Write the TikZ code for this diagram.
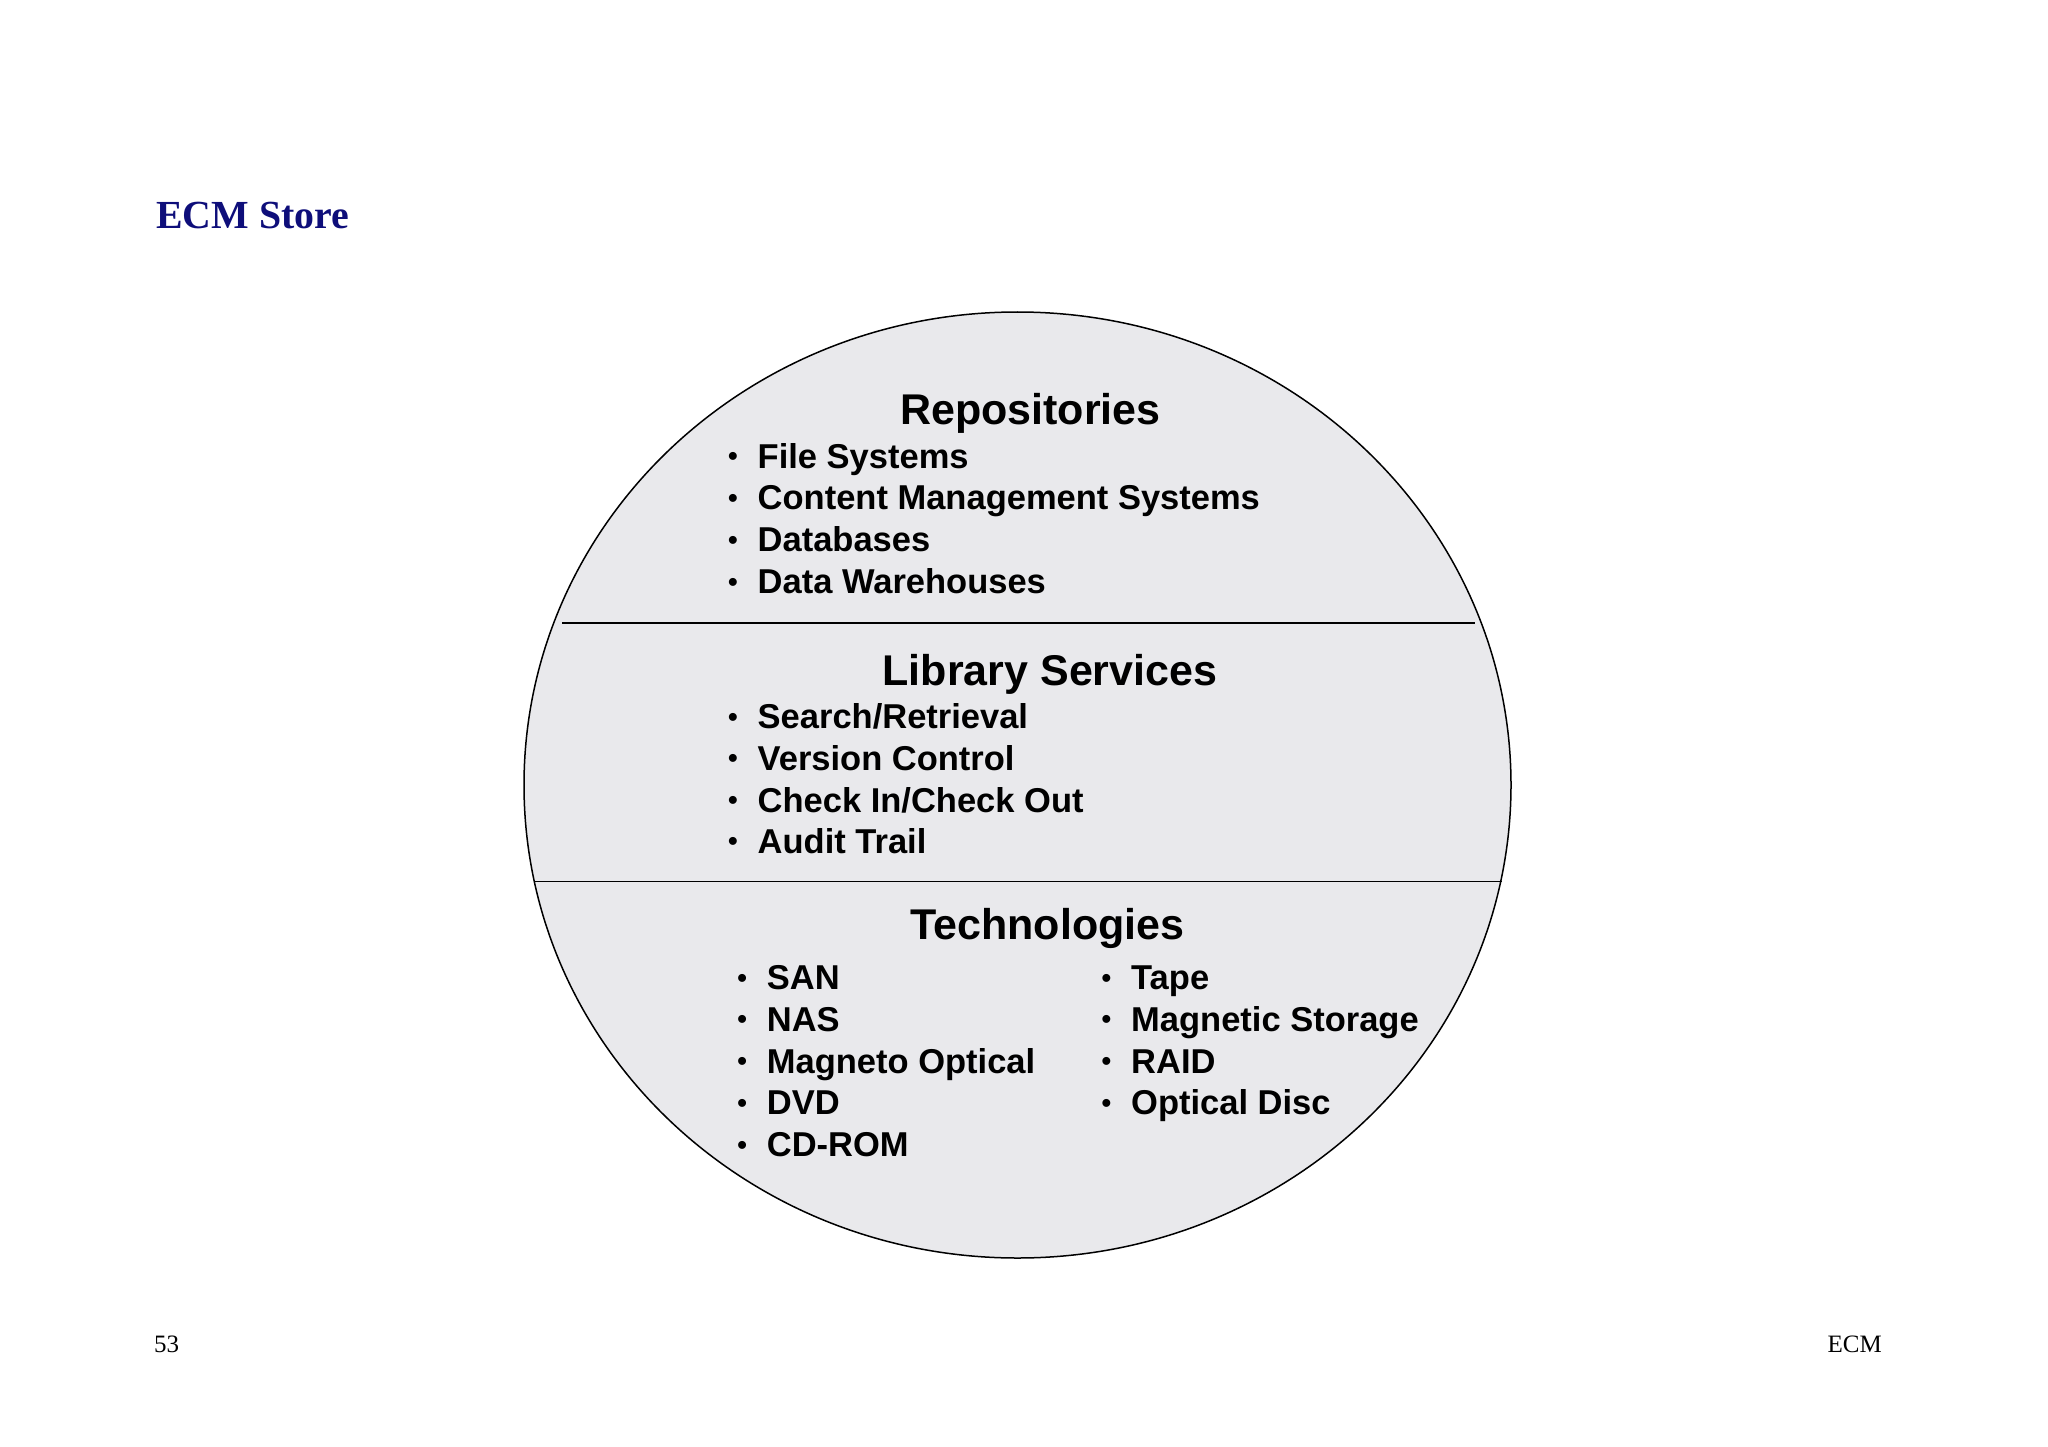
\documentclass[tikz,border=0pt]{standalone}
\usepackage{fontspec}
\usepackage{graphicx}
\usetikzlibrary{shapes.geometric}
\newfontfamily\diagfont{Liberation Sans}
\newfontfamily\titlefont{Liberation Serif}
\definecolor{ellfill}{RGB}{233,233,236}
\definecolor{titleblue}{RGB}{14,14,122}
\newcommand{\bul}{\llap{\makebox[49.6pt]{\raisebox{2.4pt}{\scalebox{0.8}{\textbullet}}}}}
\tikzset{
  heading/.style={anchor=base, inner sep=0pt, font=\diagfont\bfseries\fontsize{43}{50}\selectfont},
  item/.style={anchor=base west, inner sep=0pt, font=\diagfont\bfseries\fontsize{34.5}{40}\selectfont},
  divider/.style={line width=1.5pt, black},
  footer/.style={anchor=base, inner sep=0pt, font=\titlefont\fontsize{25}{30}\selectfont}
}
\begin{document}
\begin{tikzpicture}[x=1pt,y=-1pt]
\useasboundingbox[fill=white] (0,0) rectangle (2048,1447);
% title
\node[anchor=base west, inner sep=0pt, text=titleblue, font=\titlefont\bfseries\fontsize{39.8}{46}\selectfont] (title) at (156,229) {ECM Store};
% ellipse
\node[ellipse, draw=black, line width=1.5pt, fill=ellfill, minimum width=987pt, minimum height=946pt, inner sep=0pt] (store) at (1017.5,785) {};
\draw[divider] (562,623) -- (1474.5,623);
\draw[divider] (534,881.6) -- (1502,881.6);
% Repositories
\node[heading] (rep) at (1030.5,424) {Repositories};
\node[item] (r1) at (757.5,468) {\bul File Systems};
\node[item] (r2) at (757.5,509.8) {\bul Content Management Systems};
\node[item] (r3) at (757.5,551.6) {\bul Databases};
\node[item] (r4) at (757.5,593.4) {\bul Data Warehouses};
% Library Services
\node[heading] (lib) at (1050,685) {Library Services};
\node[item] (l1) at (757.5,728.5) {\bul Search/Retrieval};
\node[item] (l2) at (757.5,770.3) {\bul Version Control};
\node[item] (l3) at (757.5,812.1) {\bul Check In/Check Out};
\node[item] (l4) at (757.5,853.3) {\bul Audit Trail};
% Technologies
\node[heading] (tech) at (1047.5,939) {Technologies};
\node[item] (t1) at (766.7,989.5) {\bul SAN};
\node[item] (t2) at (766.7,1031.3) {\bul NAS};
\node[item] (t3) at (766.7,1073.1) {\bul Magneto Optical};
\node[item] (t4) at (766.7,1114.9) {\bul DVD};
\node[item] (t5) at (766.7,1156.7) {\bul CD-ROM};
\node[item] (u1) at (1131,989.5) {\bul Tape};
\node[item] (u2) at (1131,1031.3) {\bul Magnetic Storage};
\node[item] (u3) at (1131,1073.1) {\bul RAID};
\node[item] (u4) at (1131,1114.9) {\bul Optical Disc};
% footer
\node[footer, anchor=base west] (page) at (154,1352) {53};
\node[footer, anchor=base east] (ecm) at (1882,1352) {ECM};
\end{tikzpicture}
\end{document}
